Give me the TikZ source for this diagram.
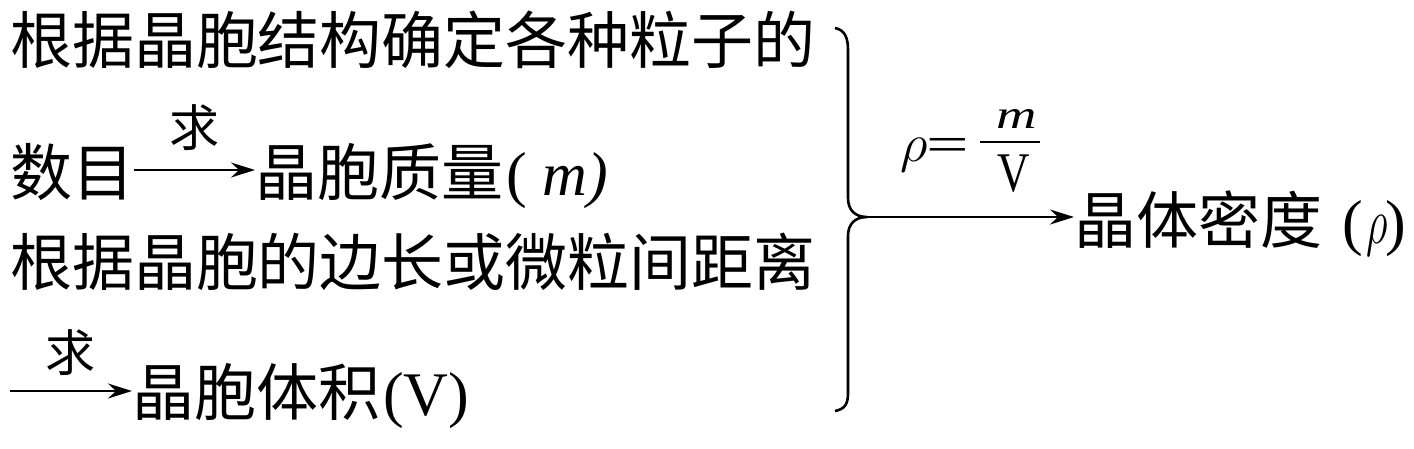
\RequirePackage{fix-cm}
\documentclass[tikz,border=0pt]{standalone}
\usepackage{fontspec}
\usepackage{graphicx}
\usetikzlibrary{arrows.meta}
\newfontfamily\cjk{Noto Sans CJK SC}
\newfontfamily\tnr{Liberation Serif}
\tikzset{
  txt/.style={anchor=base west, inner sep=0pt, outer sep=0pt, font=\fontsize{62pt}{62pt}\selectfont\cjk},
  small/.style={anchor=center, inner sep=0pt, font=\fontsize{50pt}{50pt}\selectfont\cjk},
  sym/.style={anchor=center, inner sep=0pt, font=\fontsize{56pt}{56pt}\selectfont\tnr},
  arr/.style={line width=2pt, -{Stealth[length=24pt,width=15pt,inset=8pt]}},
  brace/.style={line width=2.6pt}
}
\begin{document}
\begin{tikzpicture}[x=1pt,y=-1pt]
\useasboundingbox (0,0) rectangle (1414,448);
% line 1
\node[txt] (l1) at (10,63) {根据晶胞结构确定各种粒子的};
% line 2
\node[txt] (sm) at (10,195) {数目};
\node[txt] (zl) at (255,195) {晶胞质量{\tnr\kern0.05em(\kern0.25em\itshape m\/)}};
\draw[arr] (sm.east |- 0,170) -- (zl.west |- 0,170);
\node[small] (q1) at (194,128) {求};
% line 3
\node[txt] (l3) at (10,285) {根据晶胞的边长或微粒间距离};
% line 4
\coordinate (s4) at (10,391);
\node[txt] (tj) at (132,415) {晶胞体积{\tnr\kern0.05em(V)}};
\draw[arr] (s4) -- (tj.west |- 0,391);
\node[small] (q2) at (70,353) {求};
% brace
\coordinate (tip) at (867,217);
\draw[brace] (835,28) .. controls (845,30) and (848,38) .. (848,50)
  -- (848,198) .. controls (848,210) and (855,217) .. (tip)
  .. controls (855,217) and (848,224) .. (848,236)
  -- (848,393) .. controls (848,404) and (845,409) .. (835,411);
% result
\node[txt] (md) at (1074,243) {晶体密度{\tnr\kern0.33em(\kern0.05em\scalebox{0.68}[1.05]{$\rho$}\kern-0.04em)}};
\draw[arr] (tip) -- (md.west |- tip);
% formula
\node[sym, font=\fontsize{54pt}{54pt}\selectfont] (rho) at (914,155) {$\rho$};
\node[sym] (eq) at (948,149.5) {\scalebox{1.35}[0.9]{=}};
\coordinate (barL) at (980,142);
\coordinate (barR) at (1040,142);
\draw[line width=2pt] (barL) -- (barR);
\node[sym, font=\fontsize{56pt}{56pt}\selectfont\tnr\itshape] (num) at (1017,119) {\scalebox{1}[0.72]{m}};
\node[sym] (den) at (1014,173.5) {\scalebox{0.8}[1]{V}};
\end{tikzpicture}
\end{document}
